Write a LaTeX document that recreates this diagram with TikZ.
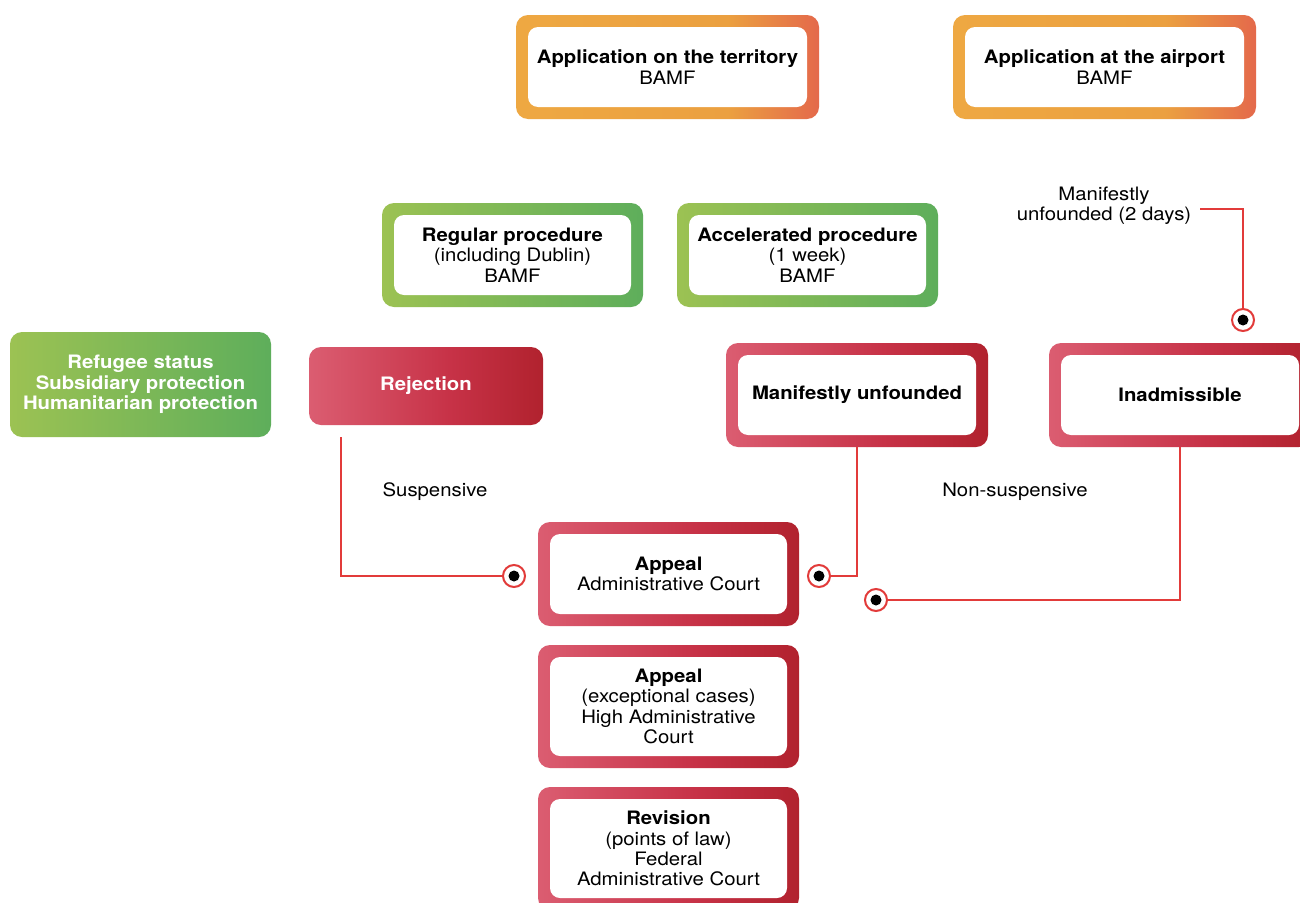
\documentclass[tikz,border=0pt]{standalone}
\usepackage{fontspec}
\setmainfont{TeX Gyre Heros}[FakeStretch=1.1]
\definecolor{orA}{HTML}{EEA842}
\definecolor{orB}{HTML}{EBA040}
\definecolor{orC}{HTML}{E4694B}
\definecolor{grA}{HTML}{9CC253}
\definecolor{grB}{HTML}{5EAE5B}
\definecolor{rdA}{HTML}{DB5D71}
\definecolor{rdB}{HTML}{C73247}
\definecolor{rdC}{HTML}{B1222E}
\definecolor{lnred}{HTML}{E23B3A}
\pgfdeclarehorizontalshading{orsh}{100bp}{color(0bp)=(orA); color(25bp)=(orA); color(60bp)=(orB); color(75bp)=(orC); color(100bp)=(orC)}
\pgfdeclarehorizontalshading{grsh}{100bp}{color(0bp)=(grA); color(25bp)=(grA); color(75bp)=(grB); color(100bp)=(grB)}
\pgfdeclarehorizontalshading{rdsh}{100bp}{color(0bp)=(rdA); color(25bp)=(rdA); color(55bp)=(rdB); color(75bp)=(rdC); color(100bp)=(rdC)}
\tikzset{
  txt/.style={font=\fontsize{18.5}{20.3}\selectfont, align=center},
  outerbox/.style={rectangle, rounded corners=12pt, inner sep=0pt},
  innerbox/.style={txt, rectangle, fill=white, rounded corners=10pt, inner sep=0pt},
  filledbox/.style={txt, rectangle, rounded corners=12pt, inner sep=0pt, text=white, font=\fontsize{18.5}{20.3}\selectfont\bfseries},
  lbl/.style={txt, inner sep=0pt},
  conn/.style={draw=lnred, line width=1.6pt},
  marker/.style={circle, draw=lnred, line width=2pt, fill=white, minimum size=22pt, inner sep=0pt,
    path picture={\fill[black] (path picture bounding box.center) circle[radius=5.5pt];}},
}
\newcommand\fbx[7]{%
  \node[outerbox, shading=#6, minimum width=#4, minimum height=#5] (#1) at (#2,#3) {};
  \node[innerbox, minimum width=#4-24, minimum height=#5-24] (#1-in) at (#2,#3) {#7};
}
\begin{document}
\begin{tikzpicture}[x=1pt,y=-1pt]
\useasboundingbox (0,0) rectangle (1300,902);
\fill[white] (0,0) rectangle (1300,902);
\fbx{terr}{667.5}{67}{303}{104}{orsh}{\textbf{Application on the territory}\\BAMF}
\fbx{airp}{1104.5}{67}{303}{104}{orsh}{\textbf{Application at the airport}\\BAMF}
\fbx{reg}{512.5}{255}{261}{104}{grsh}{\textbf{Regular procedure}\\(including Dublin)\\BAMF}
\fbx{acc}{807.5}{255}{261}{104}{grsh}{\textbf{Accelerated procedure}\\(1 week)\\BAMF}
\node[filledbox, shading=grsh, minimum width=261, minimum height=105] (ref) at (140.5,384.5) {Refugee status\\Subsidiary protection\\Humanitarian protection};
\node[filledbox, shading=rdsh, minimum width=234, minimum height=78] (rej) at (426,386) {Rejection};
\fbx{mu}{857}{395}{262}{104}{rdsh}{\textbf{Manifestly unfounded}}
\fbx{inad}{1180}{395}{262}{104}{rdsh}{\textbf{Inadmissible}}
\fbx{app1}{668.5}{574}{261}{104}{rdsh}{\textbf{Appeal}\\Administrative Court}
\fbx{app2}{668.5}{706.5}{261}{123}{rdsh}{\textbf{Appeal}\\(exceptional cases)\\High Administrative\\Court}
\fbx{rev}{668.5}{848.5}{261}{123}{rdsh}{\textbf{Revision}\\(points of law)\\Federal\\Administrative Court}

\node[lbl] (susp) at (435,492) {Suspensive};
\node[lbl] (nons) at (1015,492) {Non-suspensive};
\node[lbl] (mlab) at (1104,206) {Manifestly\\unfounded (2 days)};

\node[marker] (m1) at (514,576) {};
\node[marker] (m2) at (819,576) {};
\node[marker] (m3) at (876,600) {};
\node[marker] (m4) at (1243,320) {};
\coordinate (rejout) at (341,437);
\coordinate (labout) at (1200,209);

\draw[conn] (rejout) |- (m1);
\draw[conn] (mu.south) |- (m2);
\draw[conn] (inad.south) |- (m3);
\draw[conn] (labout) -| (m4);
\end{tikzpicture}
\end{document}
